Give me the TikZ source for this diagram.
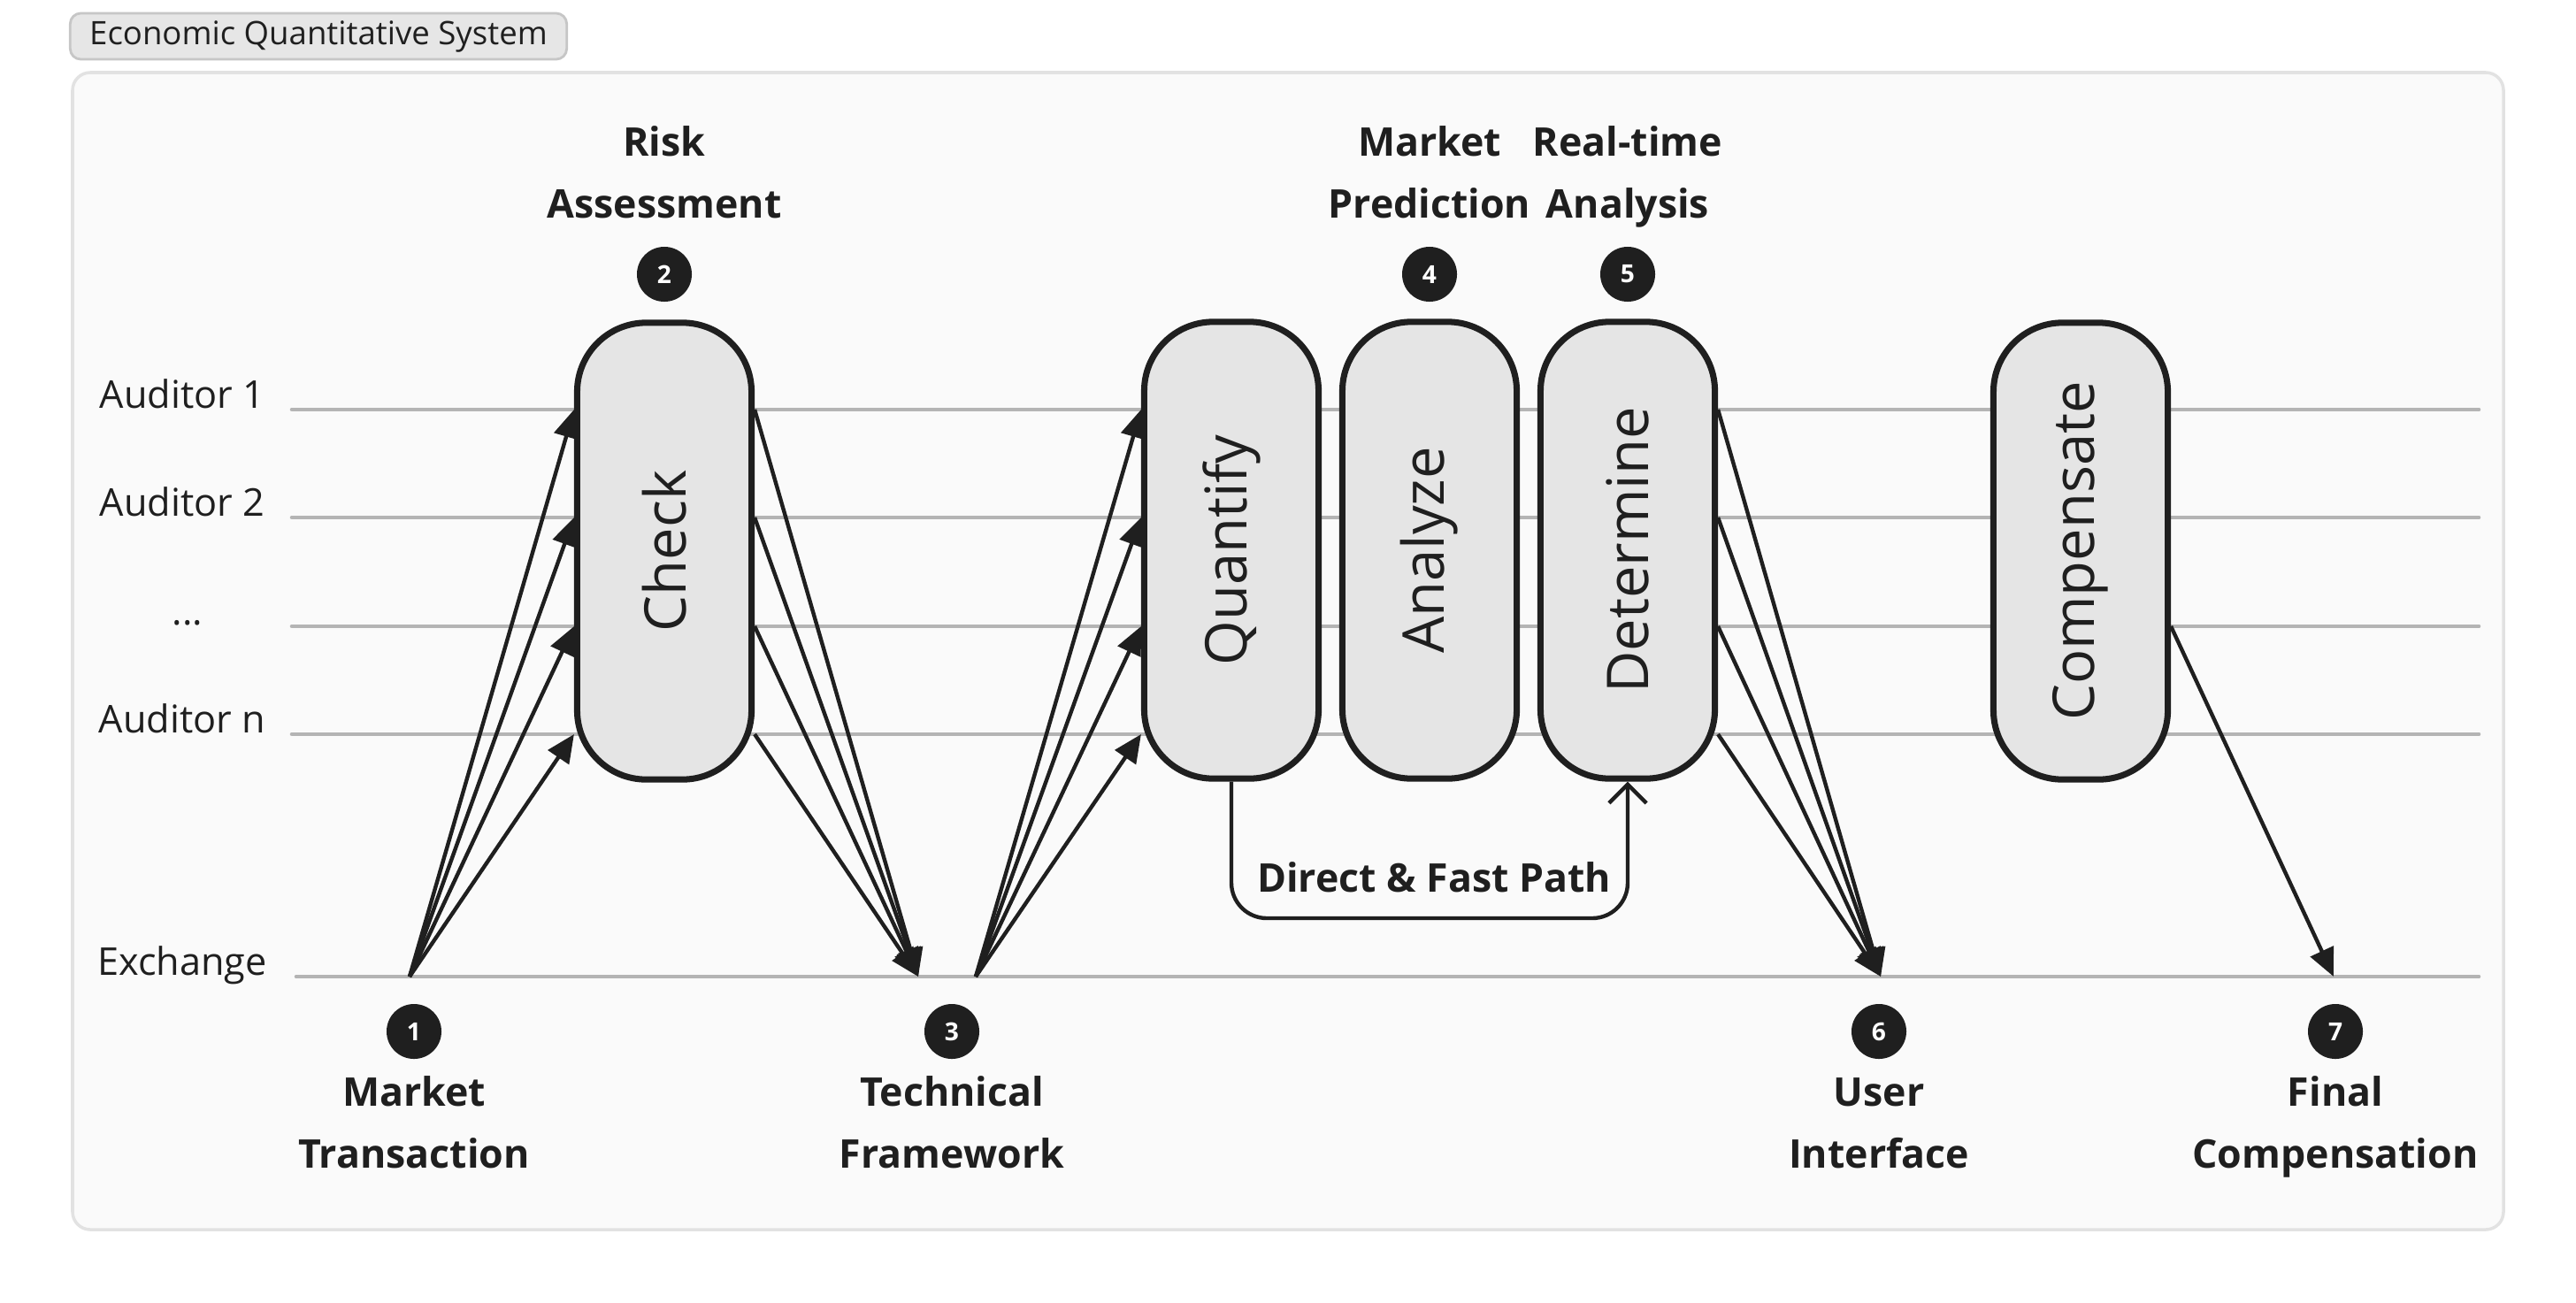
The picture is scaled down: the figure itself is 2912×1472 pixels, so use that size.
\documentclass[tikz,border=0pt]{standalone}
\usepackage{fontspec}
\usepackage{graphicx}
\setmainfont{Open Sans}
\usetikzlibrary{arrows.meta}
\definecolor{ink}{HTML}{1F1F1F}
\definecolor{lanegray}{HTML}{B4B4B4}
\definecolor{stagefill}{HTML}{E5E5E5}
\definecolor{framefill}{HTML}{FAFAFA}
\definecolor{framegray}{HTML}{E2E2E2}
\definecolor{tabfill}{HTML}{E6E6E6}
\definecolor{tabgray}{HTML}{C6C6C6}
\begin{document}
\begin{tikzpicture}[x=0.01cm, y=-0.01cm,
  lane/.style={draw=lanegray, line width=1.3pt, line cap=round},
  stage/.style={draw=ink, fill=stagefill, line width=2pt, rounded corners=0.78cm,
    minimum width=1.97cm, minimum height=5.16cm, inner sep=0pt, text=ink,
    font=\fontsize{18.5}{22}\selectfont},
  badge/.style={circle, fill=ink, text=white, minimum size=0.62cm, inner sep=0pt,
    font=\fontsize{8}{9}\selectfont\bfseries},
  caption/.style={align=center, anchor=base, inner sep=0pt, text=ink,
    font=\fontsize{12.7}{19.9}\selectfont\bfseries},
  lanelabel/.style={anchor=base, inner sep=0pt, text=ink, font=\fontsize{12.3}{14}\selectfont},
  flow/.style={draw=ink, line width=1.25pt, -{Triangle[length=9pt,width=8pt]}}]
  \useasboundingbox (0,0) rectangle (2912,1472);
  % frame and title
  \draw[fill=framefill, draw=framegray, line width=1pt, rounded corners=0.2cm] (82,82) rectangle (2830,1390);
  \node[draw=tabgray, fill=tabfill, line width=0.8pt, rounded corners=0.12cm, minimum width=5.61cm,
    minimum height=0.52cm, inner sep=0pt, text=ink, font=\fontsize{10.4}{12}\selectfont] (title) at (360,41)
    {Economic Quantitative System};
  % lanes
  \coordinate (l1) at (330,463);
  \coordinate (l2) at (330,585);
  \coordinate (l3) at (330,708);
  \coordinate (l4) at (330,830);
  \coordinate (ex) at (335,1104);
  \foreach \l in {l1,l2,l3,l4,ex}
    \draw[lane] (\l) -- (2802,0 |- \l);
  \node[lanelabel] (a1) at (206,461) {Auditor 1};
  \node[lanelabel] (a2) at (206,583) {Auditor 2};
  \node[lanelabel] (a3) at (212,706) {...};
  \node[lanelabel] (an) at (206,828) {Auditor n};
  \node[lanelabel] (exl) at (206,1102) {Exchange};
  % stages
  \node[stage] (check) at (751,623) {\rotatebox{90}{Check}};
  \node[stage] (quantify) at (1392,622) {\rotatebox{90}{Quantify}};
  \node[stage] (analyze) at (1616,622) {\rotatebox{90}{Analyze}};
  \node[stage] (determine) at (1840,622) {\rotatebox{90}{Determine}};
  \node[stage] (compensate) at (2352,623) {\rotatebox{90}{Compensate}};
  % badges and captions
  \node[badge] (b2) at (751,310) {2};
  \node[badge] (b4) at (1616,310) {4};
  \node[badge] (b5) at (1840,310) {5};
  \node[caption] (risk) at (751,246) {Risk\\Assessment};
  \node[caption] (pred) at (1616,246) {Market\\Prediction};
  \node[caption] (rta) at (1840,246) {Real-time\\Analysis};
  \node[badge] (b1) at (468,1166) {1};
  \node[badge] (b3) at (1076,1166) {3};
  \node[badge] (b6) at (2124,1166) {6};
  \node[badge] (b7) at (2640,1166) {7};
  \node[caption] (mt) at (468,1320) {Market\\Transaction};
  \node[caption] (tf) at (1076,1320) {Technical\\Framework};
  \node[caption] (ui) at (2124,1320) {User\\Interface};
  \node[caption] (fc) at (2640,1320) {Final\\Compensation};
  % exchange points
  \coordinate (mtout) at (463,1104);
  \coordinate (tfin) at (1038,1104);
  \coordinate (tfout) at (1103,1104);
  \coordinate (uiin) at (2126,1104);
  \coordinate (fcin) at (2638,1104);
  % flows
  \foreach \l in {l1,l2,l3,l4} {
    \draw[flow] (mtout) -- (check.west |- \l);
    \draw[flow] (check.east |- \l) -- (tfin);
    \draw[flow] (tfout) -- (quantify.west |- \l);
    \draw[flow] (determine.east |- \l) -- (uiin);
  }
  \draw[flow] (compensate.east |- l3) -- (fcin);
  % fast path
  \coordinate (fp) at (1616,1038);
  \draw[draw=ink, line width=1.25pt, rounded corners=0.4cm, -{Straight Barb[length=6pt,width=12pt]}]
    (quantify.south) -- (quantify.south |- fp) -- (determine.south |- fp) -- (determine.south);
  \node[caption] (fast) at (1621,1008) {Direct \& Fast Path};
\end{tikzpicture}
\end{document}
